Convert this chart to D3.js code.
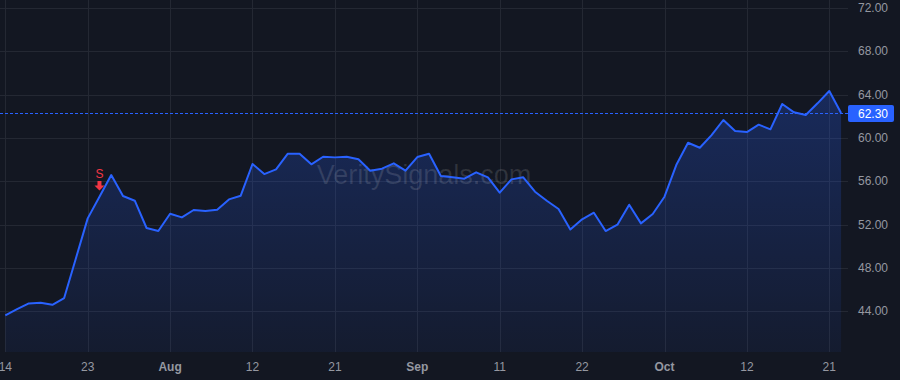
<!DOCTYPE html>
<html>
<head>
<meta charset="utf-8">
<script src="https://cdn.jsdelivr.net/npm/d3@7"></script>
<style>
  html, body { margin: 0; padding: 0; background: #131722; }
  svg { display: block; font-family: "Liberation Sans", Arial, sans-serif; }
</style>
</head>
<body>
<script>
// closing prices, one per trading day (Jul 14 -> Oct 22)
var prices = [
  43.63, 44.2, 44.73, 44.79, 44.6, 45.22, 48.9, 52.58, 54.58, 56.58,
  54.64, 54.21, 51.69, 51.41, 53.01, 52.67, 53.35, 53.26, 53.38, 54.33,
  54.67, 57.6, 56.67, 57.1, 58.55, 58.55, 57.57, 58.27, 58.21, 58.27,
  58.03, 56.98, 57.17, 57.66, 56.98, 58.24, 58.55, 56.49, 56.37, 56.24,
  56.83, 56.37, 54.95, 56.18, 56.37, 55.04, 54.21, 53.44, 51.55, 52.49,
  53.1, 51.41, 52.0, 53.84, 52.12, 52.98, 54.58, 57.5, 59.56, 59.1,
  60.27, 61.66, 60.64, 60.55, 61.23, 60.8, 63.14, 62.37, 62.12, 63.2,
  64.34, 62.30
];

// x tick labels and the bar index they sit on
var tickIdx = [0, 7, 14, 21, 28, 35, 42, 49, 56, 63, 70];
var tickLabels = ["14", "23", "Aug", "12", "21", "Sep", "11", "22", "Oct", "12", "21"];
var monthLabels = ["Aug", "Sep", "Oct"];

var yTicks = [44, 48, 52, 56, 60, 64, 68, 72];

// sell signal marker
var signalIdx = [8];
var signalText = ["S"];

var lastPrice = 62.30;
var watermark = "VeritySignals.com";

var W = 900, H = 380;
var plotR = 848, plotB = 352;

var svg = d3.select("body").append("svg")
  .attr("width", W).attr("height", H);

svg.append("rect")
  .attr("x", 0).attr("y", 0).attr("width", W).attr("height", H)
  .attr("fill", "#131722");

var x = d3.scaleLinear().domain([0, 70]).range([5.3, 829.3]);
var y = d3.scaleLinear().domain([44, 72]).range([311.3, 8]);

// grid
svg.append("g").selectAll("line.h")
  .data(yTicks).enter().append("line")
  .attr("x1", 0).attr("x2", plotR)
  .attr("y1", function(d) { return Math.round(y(d)) + 0.5; })
  .attr("y2", function(d) { return Math.round(y(d)) + 0.5; })
  .attr("stroke", "#242833").attr("stroke-width", 1);

svg.append("g").selectAll("line.v")
  .data(tickIdx).enter().append("line")
  .attr("x1", function(d) { return Math.round(x(d)) + 0.5; })
  .attr("x2", function(d) { return Math.round(x(d)) + 0.5; })
  .attr("y1", 0).attr("y2", plotB)
  .attr("stroke", "#242833").attr("stroke-width", 1);

// area fill
var defs = svg.append("defs");
var grad = defs.append("linearGradient")
  .attr("id", "fillGrad")
  .attr("gradientUnits", "userSpaceOnUse")
  .attr("x1", 0).attr("y1", y(d3.max(prices)))
  .attr("x2", 0).attr("y2", plotB);
grad.append("stop").attr("offset", "0%").attr("stop-color", "#2962ff").attr("stop-opacity", 0.26);
grad.append("stop").attr("offset", "100%").attr("stop-color", "#2962ff").attr("stop-opacity", 0.06);

var area = d3.area()
  .x(function(d, i) { return x(i); })
  .y0(plotB)
  .y1(function(d) { return y(d); });

svg.append("path")
  .datum(prices)
  .attr("d", area)
  .attr("fill", "url(#fillGrad)");

// last price dotted line
svg.append("line")
  .attr("x1", 0).attr("x2", plotR)
  .attr("y1", Math.round(y(lastPrice)) + 0.5)
  .attr("y2", Math.round(y(lastPrice)) + 0.5)
  .attr("stroke", "#2962ff").attr("stroke-width", 1)
  .attr("stroke-dasharray", "3,2")
  .attr("shape-rendering", "crispEdges");

// watermark
svg.append("text")
  .attr("x", 424).attr("y", 184)
  .attr("text-anchor", "middle")
  .attr("font-size", 27)
  .attr("fill", "#ffffff").attr("fill-opacity", 0.12)
  .text(watermark);

// price line
var line = d3.line()
  .x(function(d, i) { return x(i); })
  .y(function(d) { return y(d); });

svg.append("path")
  .datum(prices)
  .attr("d", line)
  .attr("fill", "none")
  .attr("stroke", "#2962ff")
  .attr("stroke-width", 2)
  .attr("stroke-linejoin", "round");

// signal markers
signalIdx.forEach(function(idx, k) {
  var sx = x(idx);
  svg.append("text")
    .attr("x", sx).attr("y", 178)
    .attr("text-anchor", "middle")
    .attr("font-size", 12)
    .attr("fill", "#f23645")
    .text(signalText[k]);
  var ay = 181;
  svg.append("path")
    .attr("d", "M" + (sx - 2) + "," + ay + " h4 v4.5 h3 l-5,5 l-5,-5 h3 z")
    .attr("fill", "#f23645");
});

// y axis labels
svg.append("g").selectAll("text")
  .data(yTicks).enter().append("text")
  .attr("x", 858)
  .attr("y", function(d) { return y(d) + 4; })
  .attr("font-size", 12)
  .attr("fill", "#9598a1")
  .text(function(d) { return d.toFixed(2); });

// last price label
svg.append("rect")
  .attr("x", 848).attr("y", Math.round(y(lastPrice)) - 8)
  .attr("width", 46).attr("height", 17)
  .attr("rx", 2)
  .attr("fill", "#2962ff");
svg.append("text")
  .attr("x", 858).attr("y", y(lastPrice) + 4.5)
  .attr("font-size", 12)
  .attr("fill", "#ffffff")
  .text(lastPrice.toFixed(2));

// x axis labels
svg.append("g").selectAll("text")
  .data(tickIdx).enter().append("text")
  .attr("x", function(d) { return x(d); })
  .attr("y", 371)
  .attr("text-anchor", "middle")
  .attr("font-size", 12)
  .attr("font-weight", function(d, i) { return monthLabels.indexOf(tickLabels[i]) >= 0 ? "bold" : "normal"; })
  .attr("fill", "#9598a1")
  .text(function(d, i) { return tickLabels[i]; });
</script>
</body>
</html>
